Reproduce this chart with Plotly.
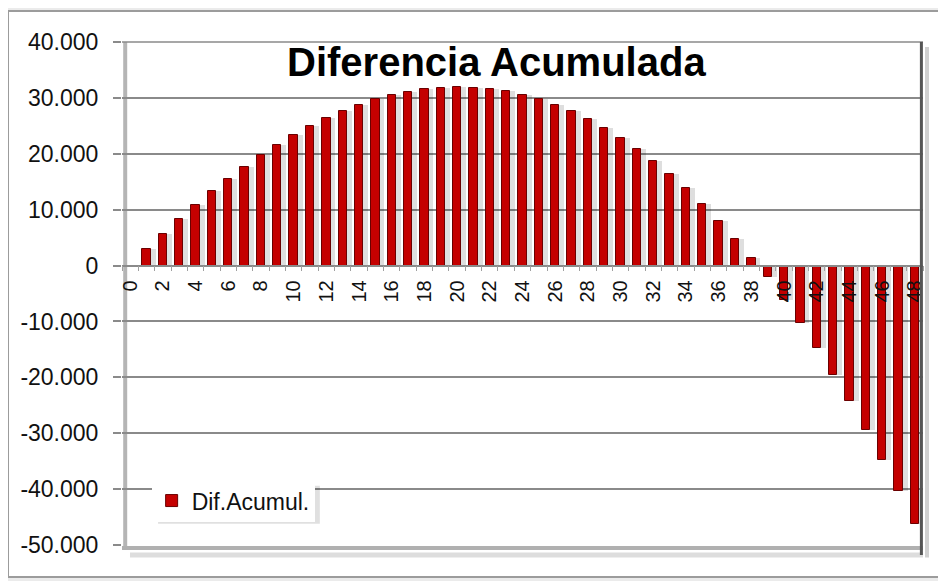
import plotly.graph_objects as go

# datos
periodos = list(range(49))
dif_acumul = [0, 2900, 5600, 8300, 10800, 13300, 15500, 17700, 19800, 21600,
              23300, 24900, 26400, 27700, 28750, 29800, 30500, 31100, 31550, 31800,
              31950, 31850, 31600, 31250, 30600, 29800, 28750, 27700, 26250, 24700,
              22900, 20900, 18700, 16400, 13800, 11000, 8000, 4700, 1400, -2000,
              -6100, -10300, -14800, -19500, -24300, -29500, -34800, -40300, -46300]

y_ticks = [40000, 30000, 20000, 10000, 0, -10000, -20000, -30000, -40000, -50000]
y_labels = ['40.000', '30.000', '20.000', '10.000', '0', '-10.000', '-20.000',
            '-30.000', '-40.000', '-50.000']
x_ticks = [p for p in periodos if p % 2 == 0]
x_labels = [str(p) for p in x_ticks]

fuente = 'Liberation Sans, Arial, sans-serif'
ancho = 0.51

fig = go.Figure()

# sombra de las barras
fig.add_trace(go.Bar(x = periodos, y = dif_acumul,
                     width = ancho, offset = -ancho/2 + 0.3,
                     marker = dict(color = 'rgba(0,0,0,0.13)', line = dict(width = 0)),
                     showlegend = False, hoverinfo = 'skip'))

fig.add_trace(go.Bar(x = periodos, y = dif_acumul, name = 'Dif.Acumul.',
                     width = ancho, offset = -ancho/2,
                     marker = dict(color = '#C40000', line = dict(color = '#6A0000', width = 1))))

# la pagina deja 8 px de margen arriba y a la izquierda
fig.update_layout(width = 938, height = 573,
                  margin = dict(l = 114, r = 23, t = 34, b = 36),
                  paper_bgcolor = '#EBEBEB', plot_bgcolor = 'rgba(0,0,0,0)',
                  barmode = 'overlay', bargap = 0,
                  font = dict(family = fuente, color = '#111111'),
                  legend = dict(x = 0.037, y = 0.131, xanchor = 'left', yanchor = 'top',
                                bgcolor = 'white', borderwidth = 0,
                                font = dict(size = 23, family = fuente, color = '#111111')))

fig.update_yaxes(range = [-50000, 40000], tickvals = y_ticks, ticktext = y_labels,
                 tickfont = dict(size = 23), ticks = 'outside', ticklen = 8,
                 tickcolor = '#8A8A8A', tickwidth = 1.5, ticklabelstandoff = 10,
                 showgrid = True, gridcolor = '#8A8A8A', gridwidth = 1.5,
                 zeroline = False, showline = False)

fig.update_xaxes(range = [-0.5, 48.5], anchor = 'free', position = 50/90,
                 tickvals = x_ticks, ticktext = x_labels, tickangle = -90,
                 tickfont = dict(size = 20), ticks = 'outside', ticklen = 5,
                 tickcolor = 'rgba(0,0,0,0)', ticklabelstandoff = 1,
                 showgrid = False, zeroline = False,
                 showline = True, linecolor = '#8A8A8A', linewidth = 1.5,
                 minor = dict(ticks = 'outside', ticklen = 5, tick0 = 0.5, dtick = 1,
                              tickcolor = '#A0A0A0', tickwidth = 1, showgrid = False))

# marco blanco del grafico
fig.add_shape(type = 'rect', xref = 'paper', yref = 'paper', layer = 'below',
              x0 = -0.1423, x1 = 1.025, y0 = -0.0636, y1 = 1.0616,
              fillcolor = 'white', line = dict(color = '#9C9C9C', width = 2))
# paredes 3D del area de trazado
fig.add_shape(type = 'line', xref = 'paper', yref = 'paper', layer = 'above',
              x0 = 0, x1 = 1, y0 = 1, y1 = 1, line = dict(color = '#8A8A8A', width = 1.5))
fig.add_shape(type = 'line', xref = 'paper', yref = 'paper', layer = 'below',
              x0 = 0.004, x1 = 0.004, y0 = -0.01, y1 = 1, line = dict(color = '#B5B5B5', width = 4))
fig.add_shape(type = 'line', xref = 'paper', yref = 'paper', layer = 'below',
              x0 = 0, x1 = 1, y0 = -0.006, y1 = -0.006, line = dict(color = '#B0B0B0', width = 4))
fig.add_shape(type = 'line', xref = 'paper', yref = 'paper', layer = 'below',
              x0 = 0.01, x1 = 1, y0 = -0.02, y1 = -0.02, line = dict(color = '#DDDDDD', width = 5))
fig.add_shape(type = 'line', xref = 'paper', yref = 'paper', layer = 'above',
              x0 = 0.998, x1 = 0.998, y0 = -0.02, y1 = 1, line = dict(color = '#555555', width = 3))
fig.add_shape(type = 'line', xref = 'paper', yref = 'paper', layer = 'below',
              x0 = 1.005, x1 = 1.005, y0 = -0.025, y1 = 0.99, line = dict(color = '#D0D0D0', width = 4))
# sombra de la leyenda
fig.add_shape(type = 'rect', xref = 'paper', yref = 'paper', layer = 'above',
              x0 = 0.045, x1 = 0.247, y0 = 0.042, y1 = 0.118,
              fillcolor = 'rgba(0,0,0,0.12)', line = dict(width = 0))

fig.add_annotation(text = '<b>Diferencia Acumulada</b>', xref = 'paper', yref = 'paper',
                   x = 0.468, y = 0.96, xanchor = 'center', yanchor = 'middle', showarrow = False,
                   font = dict(size = 40, family = fuente, color = 'black'))

fig.write_html('out.html')
